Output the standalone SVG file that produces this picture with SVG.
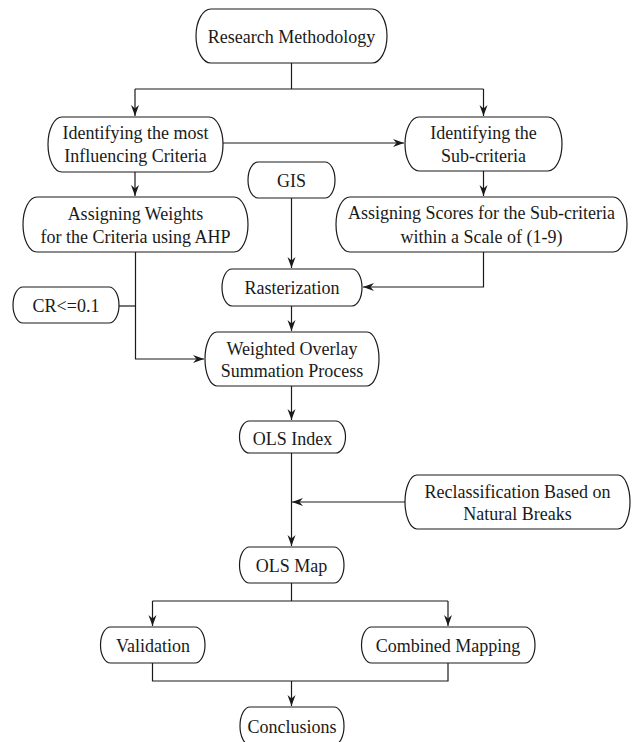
<svg xmlns="http://www.w3.org/2000/svg" width="632" height="742" viewBox="0 0 632 742">
<defs>
<style>
.box{fill:#fff;stroke:#1a1a1a;stroke-width:1.2}
.t{font-family:'Liberation Serif','Times New Roman',Times,'DejaVu Serif',serif;font-size:18px;fill:#1a1a1a;text-anchor:middle}
.c{fill:none;stroke:#1a1a1a;stroke-width:1.2}
</style>
<marker id="ah" markerWidth="12" markerHeight="10" refX="11" refY="4" orient="auto" markerUnits="userSpaceOnUse">
<path d="M0,0 L11,4 L0,8 L3.5,4 Z" fill="#1a1a1a"/>
</marker>
</defs>
<rect width="632" height="742" fill="#fff"/>
<g id="connectors">
<path class="c" d="M291.5,63 V89"/>
<path class="c" d="M135,89 H483.5"/>
<path class="c" d="M135,89 V116" marker-end="url(#ah)"/>
<path class="c" d="M483.5,89 V116" marker-end="url(#ah)"/>
<path class="c" d="M223,143 H404" marker-end="url(#ah)"/>
<path class="c" d="M135,172 V196" marker-end="url(#ah)"/>
<path class="c" d="M483.5,160 V196" marker-end="url(#ah)"/>
<path class="c" d="M291.5,198 V268" marker-end="url(#ah)"/>
<path class="c" d="M483.5,252 V287 H363" marker-end="url(#ah)"/>
<path class="c" d="M135.5,252 V359 H204" marker-end="url(#ah)"/>
<path class="c" d="M119,306 H135.5"/>
<path class="c" d="M291.5,306 V331" marker-end="url(#ah)"/>
<path class="c" d="M291.5,386 V420" marker-end="url(#ah)"/>
<path class="c" d="M291.5,453 V546" marker-end="url(#ah)"/>
<path class="c" d="M405,502 H292" marker-end="url(#ah)"/>
<path class="c" d="M291.5,583 V601"/>
<path class="c" d="M152.5,601 H448"/>
<path class="c" d="M152.5,601 V626" marker-end="url(#ah)"/>
<path class="c" d="M448,601 V626" marker-end="url(#ah)"/>
<path class="c" d="M152.5,663 V681 H448 V663"/>
<path class="c" d="M291.5,681 V706" marker-end="url(#ah)"/>
</g>
<g font-family="Liberation Serif, Times New Roman, serif">
<g id="n-research">
<rect class="box" x="196" y="9" width="191" height="54" rx="15" ry="27"/>
<text class="t" x="291.5" y="43">Research Methodology</text>
</g>
<g id="n-identify-criteria">
<rect class="box" x="48" y="117" width="175" height="55" rx="14" ry="27.5"/>
<text class="t" x="135.5" y="139">Identifying the most</text>
<text class="t" x="135.5" y="162">Influencing Criteria</text>
</g>
<g id="n-identify-sub">
<rect class="box" x="405" y="117" width="157" height="54" rx="14" ry="27"/>
<text class="t" x="483.5" y="139">Identifying the</text>
<text class="t" x="483.5" y="162">Sub-criteria</text>
</g>
<g id="n-gis">
<rect class="box" x="248" y="162" width="87" height="36" rx="10" ry="18"/>
<text class="t" x="291.5" y="187">GIS</text>
</g>
<g id="n-weights">
<rect class="box" x="23" y="197" width="225" height="55" rx="14" ry="27.5"/>
<text class="t" x="135.5" y="220">Assigning Weights</text>
<text class="t" x="135.5" y="243">for the Criteria using AHP</text>
</g>
<g id="n-scores">
<rect class="box" x="336" y="197" width="291" height="55" rx="14" ry="27.5"/>
<text class="t" x="481.5" y="219">Assigning Scores for the Sub-criteria</text>
<text class="t" x="481.5" y="243">within a Scale of (1-9)</text>
</g>
<g id="n-cr">
<rect class="box" x="13" y="287" width="106" height="36" rx="10" ry="18"/>
<text class="t" x="66" y="312">CR&lt;=0.1</text>
</g>
<g id="n-raster">
<rect class="box" x="222" y="269" width="140" height="37" rx="10" ry="18.5"/>
<text class="t" x="292" y="294">Rasterization</text>
</g>
<g id="n-weighted">
<rect class="box" x="205" y="332" width="174" height="54" rx="12" ry="27"/>
<text class="t" x="292" y="355">Weighted Overlay</text>
<text class="t" x="292" y="377">Summation Process</text>
</g>
<g id="n-olsindex">
<rect class="box" x="239.5" y="421" width="106" height="32" rx="10" ry="16"/>
<text class="t" x="292.5" y="445">OLS Index</text>
</g>
<g id="n-reclass">
<rect class="box" x="405" y="475" width="225" height="54" rx="12" ry="27"/>
<text class="t" x="517.5" y="498">Reclassification Based on</text>
<text class="t" x="517.5" y="520">Natural Breaks</text>
</g>
<g id="n-olsmap">
<rect class="box" x="239.5" y="547" width="104.5" height="36" rx="10" ry="18"/>
<text class="t" x="291.5" y="572">OLS Map</text>
</g>
<g id="n-validation">
<rect class="box" x="100.5" y="627" width="104.5" height="36" rx="10" ry="18"/>
<text class="t" x="153" y="652">Validation</text>
</g>
<g id="n-combined">
<rect class="box" x="361.5" y="627" width="173.5" height="36" rx="10" ry="18"/>
<text class="t" x="448" y="652">Combined Mapping</text>
</g>
<g id="n-conclusions">
<rect class="box" x="240" y="707" width="104" height="38" rx="10" ry="19"/>
<text class="t" x="292" y="733">Conclusions</text>
</g>
</g>
</svg>
